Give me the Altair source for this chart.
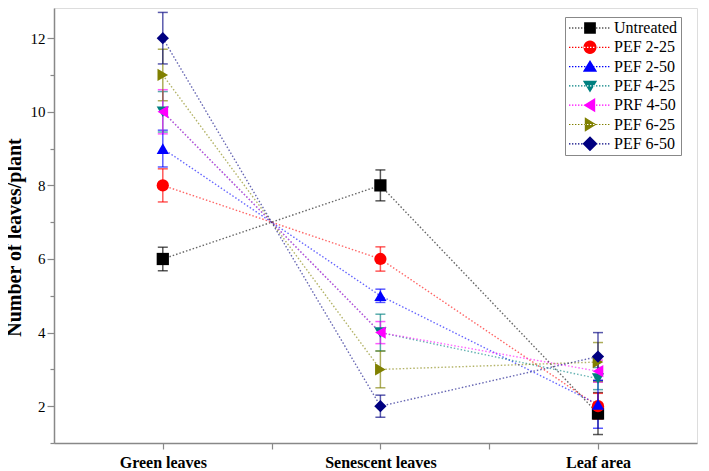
import altair as alt
import pandas as pd

series = ["Untreated", "PEF 2-25", "PEF 2-50", "PEF 4-25", "PRF 4-50", "PEF 6-25", "PEF 6-50"]
colors = ["#000000", "#ff0000", "#0000ff", "#008080", "#ff00ff", "#808000", "#000080"]
shapes = ["square", "circle", "triangle-up", "triangle-down", "triangle-left", "triangle-right", "diamond"]
categories = ["Green leaves", "Senescent leaves", "Leaf area"]

green = [6.0, 8.0, 9.0, 10.0, 10.0, 11.0, 12.0]
green_err = [0.32, 0.45, 0.5, 0.55, 0.6, 0.7, 0.7]
senescent = [8.0, 6.0, 5.0, 4.0, 4.0, 3.0, 2.0]
senescent_err = [0.42, 0.33, 0.18, 0.5, 0.3, 0.5, 0.3]
leaf_area = [1.8, 2.0, 2.05, 2.75, 2.95, 3.2, 3.35]
leaf_area_err = [0.57, 0.35, 0.65, 0.3, 0.3, 0.53, 0.65]

y_ticks = list(range(1, 14))
x_ticks = [1, 1.5, 2, 2.5, 3]

rows = []
cols = [(green, green_err), (senescent, senescent_err), (leaf_area, leaf_area_err)]
for i, s in enumerate(series):
    for j, (vals, errs) in enumerate(cols):
        rows.append(dict(series=s, k=i, pos=j + 1, value=vals[i],
                         lo=vals[i] - errs[i], hi=vals[i] + errs[i]))
df = pd.DataFrame(rows)

# ---- legend symbol paths (dotted line + marker), unit = 7.5 px ----
U = 7.5
def px(v):
    return v / U

def dots():
    parts = []
    x = -7.0
    while x < 35.0:
        parts.append(f"M{px(x):.3f},{px(-0.6):.3f}H{px(x+1.4):.3f}V{px(0.6):.3f}H{px(x):.3f}Z")
        x += 3.0
    return "".join(parts)

cx = px(14.0)
h = px(6.5)
marker_paths = {
    "square": f"M{cx-h*0.9:.3f},{-h*0.9:.3f}H{cx+h*0.9:.3f}V{h*0.9:.3f}H{cx-h*0.9:.3f}Z",
    "circle": f"M{cx-h:.3f},0A{h:.3f},{h:.3f} 0 1,0 {cx+h:.3f},0A{h:.3f},{h:.3f} 0 1,0 {cx-h:.3f},0Z",
    "triangle-up": f"M{cx:.3f},{-h:.3f}L{cx+h*1.1:.3f},{h*0.8:.3f}L{cx-h*1.1:.3f},{h*0.8:.3f}Z",
    "triangle-down": f"M{cx:.3f},{h:.3f}L{cx+h*1.1:.3f},{-h*0.8:.3f}L{cx-h*1.1:.3f},{-h*0.8:.3f}Z",
    "triangle-left": f"M{cx-h:.3f},0L{cx+h*0.8:.3f},{-h*1.1:.3f}L{cx+h*0.8:.3f},{h*1.1:.3f}Z",
    "triangle-right": f"M{cx+h:.3f},0L{cx-h*0.8:.3f},{-h*1.1:.3f}L{cx-h*0.8:.3f},{h*1.1:.3f}Z",
    "diamond": f"M{cx:.3f},{-h*1.15:.3f}L{cx+h*1.15:.3f},0L{cx:.3f},{h*1.15:.3f}L{cx-h*1.15:.3f},0Z",
}
d = dots()
legend_paths = [d + marker_paths[sh] for sh in shapes]

x_label_expr = " : ".join(
    [f"datum.value == {j+1} ? '{c}'" for j, c in enumerate(categories)]) + " : ''"

FONT = "Liberation Serif"

x_axis = alt.Axis(values=x_ticks, labelExpr=x_label_expr, title=None,
                  grid=False, tickSize=6, labelPadding=5,
                  labelFont=FONT, labelFontSize=16, labelFontWeight="bold",
                  labelColor="#000", domainColor="#888", tickColor="#888",
                  domainWidth=1.5, tickWidth=1.2, labelFlush=False,
                  labelOverlap=False)
y_axis = alt.Axis(values=y_ticks,
                  labelExpr="datum.value % 2 == 0 ? datum.label : ''",
                  labelOverlap=False,
                  title="Number of leaves/plant", grid=False,
                  tickSize={"condition": {"test": "datum.value % 2 == 0", "value": 7},
                            "value": 4},
                  labelPadding=2, labelFont=FONT, labelFontSize=15,
                  labelColor="#000", domainColor="#888", tickColor="#888",
                  domainWidth=1.5, tickWidth=1.2, titleFont=FONT,
                  titleFontSize=20, titleFontWeight="bold", titleColor="#000",
                  titleBaseline="middle", titleX=-40, titleY=229)

x_scale = alt.Scale(domain=[0.5, 3.455], nice=False, zero=False)
y_scale = alt.Scale(domain=[1, 12.82], nice=False, zero=False)

def X():
    return alt.X("pos:Q", scale=x_scale, axis=x_axis)

def Y(field):
    return alt.Y(field, scale=y_scale, axis=y_axis)

color_scale = alt.Scale(domain=series, range=colors)
shape_scale = alt.Scale(domain=series, range=shapes)
legend_shape_scale = alt.Scale(domain=series, range=legend_paths)

base = alt.Chart(df)

lines = base.mark_line(strokeDash=[1.5, 2], strokeWidth=1.4, opacity=0.6).encode(
    x=X(),
    y=Y("value:Q"),
    color=alt.Color("series:N", scale=color_scale, legend=None),
    detail="series:N",
    order="pos:Q",
)

errs = base.mark_errorbar(ticks=True, size=10, thickness=1.5, opacity=0.65).encode(
    x=X(),
    y=Y("lo:Q"),
    y2="hi:Q",
    color=alt.Color("series:N", scale=color_scale, legend=None),
)

points = base.mark_point(filled=True, size=150, opacity=1).encode(
    x=X(),
    y=Y("value:Q"),
    color=alt.Color("series:N", scale=color_scale, legend=None),
    shape=alt.Shape("series:N", scale=shape_scale, legend=None),
    order="k:Q",
)

leg = alt.Legend(
    title=None, orient="none", legendX=511, legendY=9, padding=3,
    strokeColor="#888", fillColor="#fff", symbolSize=225, symbolStrokeWidth=0,
    labelFont=FONT, labelFontSize=16, labelColor="#000", labelOffset=30,
    rowPadding=3.3, symbolOpacity=1)

legend_layer = base.mark_point(filled=True, size=1, opacity=0).encode(
    x=X(),
    y=Y("value:Q"),
    color=alt.Color("series:N", scale=color_scale, legend=leg),
    shape=alt.Shape("series:N", scale=legend_shape_scale, legend=leg),
)

chart = alt.layer(lines, errs, points, legend_layer).resolve_scale(
    color="independent", shape="independent"
).properties(
    width=643, height=435,
    padding={"left": 46, "top": 0, "right": 4, "bottom": 28},
    autosize=alt.AutoSizeParams(type="none"),
).configure_view(stroke="#888", strokeWidth=1.5).configure(background="white")

chart.save("out.html", embed_options={"renderer": "svg", "actions": False})
